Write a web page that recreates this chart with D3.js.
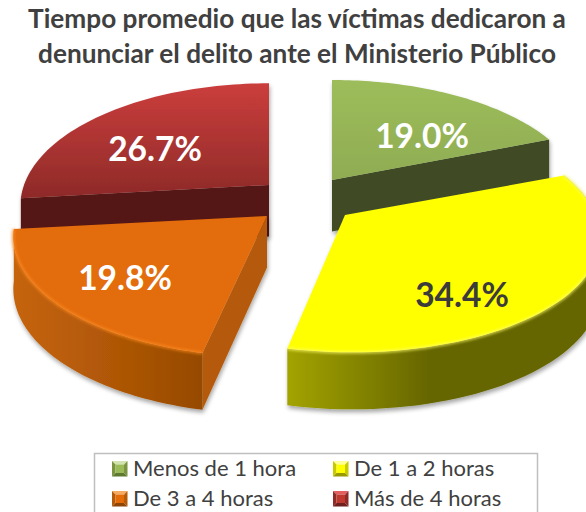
<!DOCTYPE html>
<html><head><meta charset="utf-8">
<style>html,body{margin:0;padding:0;background:#fff}svg{display:block}text{font-family:Lato,"Open Sans",sans-serif}</style>
<script src="https://cdn.jsdelivr.net/npm/d3@7"></script></head>
<body><svg id="c" width="586" height="512"></svg>
<script>
const categories=["Menos de 1 hora","De 1 a 2 horas","De 3 a 4 horas","Más de 4 horas"];
const values=[19.0,34.4,19.8,26.7];
const labels=["19.0%","34.4%","19.8%","26.7%"];
const titleLines=["Tiempo promedio que las víctimas dedicaron a","denunciar el delito ante el Ministerio Público"];

const faceColors=["#3f4c26","#666600","#b55a08","#541714"];
const apexes=[[332,180],[345,215],[267,216],[269,185]];
const radiiX=[248,250,250,245];
const radiiY=[117,114,117,119];
const shears=[0,7,0,0];
const labelPos=[[422,136],[462,295],[125,278],[155,149]];
const labelColors=["#fff","#3b3b3b","#fff","#fff"];
const svg=d3.select("#c"),defs=svg.append("defs");

function lg(id,x1,y1,x2,y2,stops){
  const g=defs.append("linearGradient").attr("id",id)
    .attr("x1",x1).attr("y1",y1).attr("x2",x2).attr("y2",y2);
  stops.forEach(s=>g.append("stop").attr("offset",s[0]).attr("stop-color",s[1]));
}
lg("t0",0,0,0,1,[[0,"#9dbd5b"],[1,"#8fac52"]]);
lg("t1",0,0,0,1,[[0,"#ffff00"],[1,"#ffff00"]]);
lg("t2",0,0,0,1,[[0,"#e36c09"],[1,"#e36c09"]]);
lg("t3",0,0,0,1,[[0,"#cb3e3c"],[1,"#8e2a28"]]);
lg("r1",0,0,1,0,[[0,"#a3a300"],[.45,"#666600"],[1,"#666600"]]);
lg("r2",0,0,1,0,[[0,"#c6640c"],[.55,"#ae5606"],[1,"#964a04"]]);
const shadow=defs.append("filter").attr("id","sh").attr("x","-10%").attr("y","-10%").attr("width","120%").attr("height","120%");
shadow.append("feDropShadow").attr("dx",1).attr("dy",3).attr("stdDeviation",2).attr("flood-color","#000").attr("flood-opacity",.35);
const blur=defs.append("filter").attr("id","bl").attr("x","-5%").attr("y","-5%").attr("width","110%").attr("height","110%");
blur.append("feGaussianBlur").attr("stdDeviation",1.4);

const pie=d3.pie().sort(null).value(d=>d);
const arcs=pie(values);
const rimScale=d3.scaleLinear().domain([-1,1]).range([46,57]);
function pt(i,a,r,down){
  const d=-Math.cos(a)*r, s=1/(1-0.17*d);
  const [ax,ay]=apexes[i];
  const x=ax+radiiX[i]*Math.sin(a)*r*s+shears[i]*Math.max(d,0), y=ay+radiiY[i]*d*s;
  return [x,y+(down?rimScale(d):0)];
}
const line=d3.line();
function arcPts(i,a0,a1,down){
  const n=60;
  return d3.range(n+1).map(k=>pt(i,d3.interpolateNumber(a0,a1)(k/n),1,down));
}
function apex(i,down){return pt(i,0,0,down);}

[3,0,2,1].forEach(i=>{
  const a=arcs[i], g=svg.append("g").attr("filter","url(#sh)");
  const a0=a.startAngle,a1=a.endAngle;
  const up=arcPts(i,a0,a1,false), dn=arcPts(i,a0,a1,true);
  if(i===0||i===2||i===3){
    const ang=i===0?a1:a0;
    const e=pt(i,ang,1,false), ed=pt(i,ang,1,true);
    g.append("path").attr("d",line([apex(i,false),e,ed,apex(i,true)])+"Z").attr("fill",faceColors[i]);
  }
  if(i===1||i===2){
    g.append("path").attr("d",line(up.concat(dn.slice().reverse()))+"Z").attr("fill",`url(#r${i})`);
  }
  g.append("path").attr("d",line([apex(i,false)].concat(up))+"Z").attr("fill",`url(#t${i})`);
  if(i===1||i===2){
    svg.append("path").attr("d",line(up)).attr("fill","none").attr("filter","url(#bl)")
      .attr("stroke",i===1?"#ffff66":"#ff8a1f").attr("stroke-width",2);
  }
});

svg.append("g").selectAll("text").data(labels).join("text")
  .attr("x",(d,i)=>labelPos[i][0]).attr("y",(d,i)=>labelPos[i][1]+12)
  .attr("text-anchor","middle").attr("font-size",33.5).attr("font-weight",700)
  .attr("fill",(d,i)=>labelColors[i]).text(d=>d);

svg.append("g").selectAll("text").data(titleLines).join("text")
  .attr("x",297).attr("y",(d,i)=>28+i*35).attr("text-anchor","middle")
  .attr("font-size",26.2).attr("font-weight",700).attr("fill","#404040").text(d=>d);

const lx=[112,333],ly=[461,491];
svg.append("rect").attr("x",94.5).attr("y",453.5).attr("width",443).attr("height",70)
  .attr("fill","none").attr("stroke","#bfbfbf").attr("stroke-width",1.5);
const shade=[["#d3e4b0","#9bbb59","#7a9440","#5f7a30"],["#ffff99","#ffff00","#c9c900","#999900"],["#f7ab60","#e36c09","#b55a08","#8f4504"],["#e46060","#c0392f","#8e2a28","#6e1f1e"]];
const leg=svg.append("g").selectAll("g").data(categories).join("g")
  .attr("transform",(d,i)=>`translate(${lx[i%2]},${ly[i>>1]})`);
leg.each(function(d,i){
  const g=d3.select(this),S=15.5,b=3.5,c=shade[i];
  g.append("path").attr("d",line([[0,0],[S,0],[S-b,b],[b,b]])+"Z").attr("fill",c[0]);
  g.append("path").attr("d",line([[S,0],[S,S],[S-b,S-b],[S-b,b]])+"Z").attr("fill",c[2]);
  g.append("path").attr("d",line([[0,S],[S,S],[S-b,S-b],[b,S-b]])+"Z").attr("fill",c[3]);
  g.append("path").attr("d",line([[0,0],[0,S],[b,S-b],[b,b]])+"Z").attr("fill",c[2]);
  g.append("rect").attr("x",b).attr("y",b).attr("width",S-2*b).attr("height",S-2*b).attr("fill",c[1]);
});
leg.append("text").attr("x",21).attr("y",15).attr("font-size",22).attr("fill","#404040").text(d=>d);
</script></body></html>
